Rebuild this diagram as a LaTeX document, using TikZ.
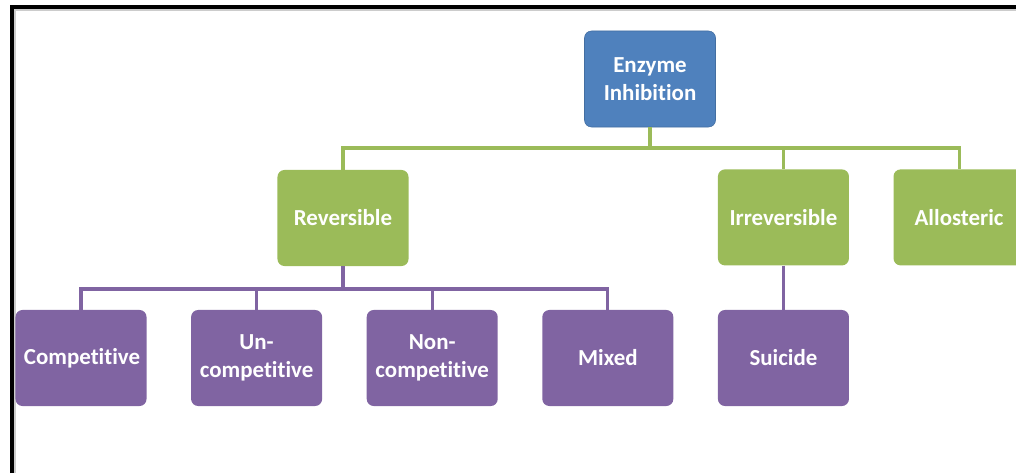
\documentclass[tikz,border=0pt]{standalone}
\usepackage{fontspec}
\setmainfont{Carlito}[Ligatures={NoCommon}]
\usetikzlibrary{positioning}
\definecolor{TopBlue}{RGB}{79,129,189}
\definecolor{MidGreen}{RGB}{155,187,89}
\definecolor{LowPurple}{RGB}{128,100,162}
\tikzset{
  box/.style={rounded corners=5pt,minimum width=3.275cm,minimum height=2.4cm,
    text width=2.85cm,align=center,text=white,
    font=\fontsize{16.3}{20}\selectfont\bfseries},
  rootbox/.style={box,fill=TopBlue,draw=TopBlue!85!black,line width=0.4pt},
  kindbox/.style={box,fill=MidGreen},
  typebox/.style={box,fill=LowPurple},
  greenline/.style={MidGreen,line width=2.2pt},
  purpleline/.style={LowPurple,line width=2.2pt}
}
\begin{document}
\begin{tikzpicture}[x=0.025cm,y=-0.025cm,node distance=1.1cm]
  \useasboundingbox (0,0) rectangle (1016,473);
  % frame
  \draw[black!20,line width=1pt] (15,473) -- (15,10) -- (1016,10);
  \draw[black,line width=2.2pt] (12,473) -- (12,7) -- (1016,7);
  % bottom row
  \node[typebox] (comp) at (81,358) {Competitive};
  \node[typebox,right=of comp] (uncomp) {Un-\\competitive};
  \node[typebox,right=of uncomp] (noncomp) {Non-\\competitive};
  \node[typebox,right=of noncomp] (mixed) {Mixed};
  \node[typebox,right=of mixed] (suicide) {Suicide};
  % middle row
  \node[kindbox,above=of suicide] (irrev) {Irreversible};
  \node[kindbox,right=of irrev] (allo) {Allosteric};
  \node[kindbox] (rev) at (343,218) {Reversible};
  % top
  \node[rootbox] (enzyme) at (650,79) {Enzyme\\Inhibition};
  % connectors
  \coordinate (gbus) at (650,148);
  \coordinate (pbus) at (343,289);
  \draw[greenline] (enzyme) -- (gbus);
  \draw[greenline] (gbus) -| (rev);
  \draw[greenline] (gbus) -| (irrev);
  \draw[greenline] (gbus) -| (allo);
  \draw[purpleline] (rev) -- (pbus);
  \draw[purpleline] (pbus) -| (comp);
  \draw[purpleline] (pbus) -| (uncomp);
  \draw[purpleline] (pbus) -| (noncomp);
  \draw[purpleline] (pbus) -| (mixed);
  \draw[purpleline] (irrev) -- (suicide);
\end{tikzpicture}
\end{document}
